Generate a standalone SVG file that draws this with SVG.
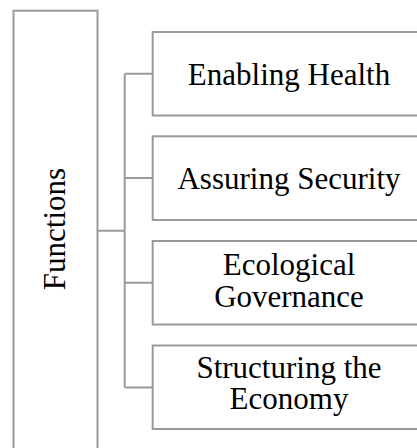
<svg xmlns="http://www.w3.org/2000/svg" width="417" height="448" viewBox="0 0 417 448">
<style>
.box{fill:#fff;stroke:#9a9a9a;stroke-width:2}
.conn{fill:none;stroke:#9a9a9a;stroke-width:2}
.t{font-family:"Liberation Serif","Times New Roman",serif;font-size:31px;fill:#000;text-anchor:middle}
</style>
<rect width="417" height="448" fill="#fff"/>
<g id="connectors">
<path class="conn" d="M97.5,230.7 H124.7 M124.7,73.7 V387.5 M124.7,73.7 H152.7 M124.7,178 H152.7 M124.7,282.8 H152.7 M124.7,387.5 H152.7"/>
</g>
<g id="functions">
<rect class="box" x="13.5" y="10.7" width="84" height="450"/>
<text class="t" transform="translate(65,229) rotate(-90)" x="0" y="0">Functions</text>
</g>
<g id="enabling-health">
<rect class="box" x="152.7" y="32" width="272" height="83.5"/>
<text class="t" x="289" y="85">Enabling Health</text>
</g>
<g id="assuring-security">
<rect class="box" x="152.7" y="136.3" width="272" height="83.7"/>
<text class="t" x="289" y="189">Assuring Security</text>
</g>
<g id="ecological-governance">
<rect class="box" x="152.7" y="241" width="272" height="83.5"/>
<text class="t" x="289" y="275">Ecological</text>
<text class="t" x="289" y="307">Governance</text>
</g>
<g id="structuring-economy">
<rect class="box" x="152.7" y="345.5" width="272" height="83.5"/>
<text class="t" x="289" y="378">Structuring the</text>
<text class="t" x="289" y="409">Economy</text>
</g>
</svg>
